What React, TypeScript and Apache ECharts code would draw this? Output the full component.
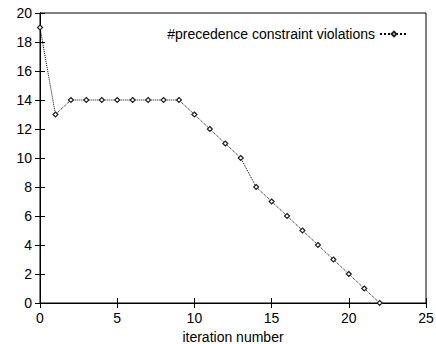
import React, { useEffect, useRef } from "react";
import * as echarts from "echarts";

const iterations = [0, 1, 2, 3, 4, 5, 6, 7, 8, 9, 10, 11, 12, 13, 14, 15, 16, 17, 18, 19, 20, 21, 22];
const violations = [19, 13, 14, 14, 14, 14, 14, 14, 14, 14, 13, 12, 11, 10, 8, 7, 6, 5, 4, 3, 2, 1, 0];
const seriesName = "#precedence constraint violations";
const xLabel = "iteration number";

const FONT = "Liberation Sans, Arial, Helvetica, sans-serif";
const FS = 14;

export default function App() {
  const ref = useRef<HTMLDivElement>(null);
  useEffect(() => {
    if (!ref.current) return;
    const chart = echarts.init(ref.current, undefined, { renderer: "svg" });
    const tickStyle = { show: true, inside: true, length: 5, lineStyle: { color: "#000", width: 1 } };
    chart.setOption({
      animation: false,
      backgroundColor: "#fff",
      textStyle: { fontFamily: FONT },
      grid: {
        left: 40,
        top: 13,
        right: 10,
        bottom: 41,
        show: true,
        borderColor: "#000",
        borderWidth: 1,
        containLabel: false,
        outerBoundsMode: "none",
      },
      legend: {
        show: true,
        right: 22,
        top: 22,
        align: "right",
        itemWidth: 28,
        itemHeight: 6,
        itemGap: 8,
        textStyle: { fontFamily: FONT, fontSize: FS, color: "#000" },
        data: [seriesName],
      },
      xAxis: [
        {
          type: "value",
          min: 0,
          max: 25,
          interval: 5,
          position: "bottom",
          name: xLabel,
          nameLocation: "middle",
          nameGap: 25,
          nameTextStyle: { fontFamily: FONT, fontSize: FS, color: "#000" },
          axisLine: { show: true, lineStyle: { color: "#000", width: 1 } },
          axisTick: tickStyle,
          axisLabel: { fontFamily: FONT, fontSize: FS, color: "#000", margin: 8 },
          splitLine: { show: false },
        },
        {
          type: "value",
          min: 0,
          max: 25,
          interval: 5,
          position: "top",
          axisLine: { show: true, lineStyle: { color: "#000", width: 1 } },
          axisTick: tickStyle,
          axisLabel: { show: false },
          splitLine: { show: false },
        },
      ],
      yAxis: [
        {
          type: "value",
          min: 0,
          max: 20,
          interval: 2,
          position: "left",
          axisLine: { show: true, lineStyle: { color: "#000", width: 1 } },
          axisTick: tickStyle,
          axisLabel: { fontFamily: FONT, fontSize: FS, color: "#000", margin: 8 },
          splitLine: { show: false },
        },
        {
          type: "value",
          min: 0,
          max: 20,
          interval: 2,
          position: "right",
          axisLine: { show: true, lineStyle: { color: "#000", width: 1 } },
          axisTick: tickStyle,
          axisLabel: { show: false },
          splitLine: { show: false },
        },
      ],
      series: [
        {
          name: seriesName,
          type: "line",
          xAxisIndex: 0,
          yAxisIndex: 0,
          data: iterations.map((x, i) => [x, violations[i]]),
          symbol: "diamond",
          symbolSize: 5,
          showAllSymbol: true,
          lineStyle: { color: "#000", width: 1, type: "dotted" },
          itemStyle: { color: "#fff", borderColor: "#222", borderWidth: 1.2 },
        },
      ],
    });
    return () => chart.dispose();
  }, []);
  return <div ref={ref} style={{ width: 436, height: 344, position: "absolute", left: 0, top: 0 }} />;
}
